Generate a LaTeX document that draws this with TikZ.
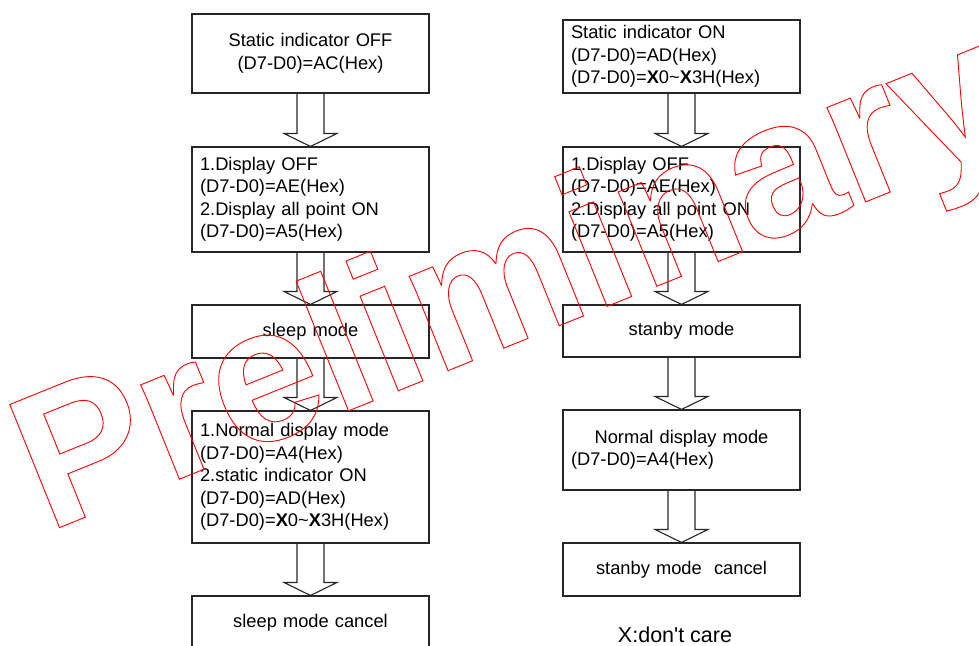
\documentclass[tikz,border=0pt]{standalone}
\usepackage{fontspec}
\setmainfont{Liberation Sans}[Ligatures=TeXOff]
\usetikzlibrary{calc}
\tikzset{
  box/.style={draw=black!85, line width=1.1pt, minimum width=237pt, inner xsep=8pt, inner ysep=0pt,
    font=\fontsize{18.3}{22.5}\selectfont},
  lbox/.style={box, text width=221pt, align=left},
  cbox/.style={box, text width=221pt, align=center},
  blk/.style={draw=black!85, line width=1.1pt, line join=miter},
  wm/.style={text=red, inner sep=0pt, anchor=base west, rotate=22,
    font=\fontsize{193}{193}\selectfont\bfseries},
  note/.style={inner sep=0pt, anchor=base, font=\fontsize{21.5}{24}\selectfont}
}
\newcommand{\blockarrow}[2]{%
  \draw[blk] ($(#1.south)+(-13.5,0)$) -- ($(#2.north)+(-13.5,-13)$) -- ($(#2.north)+(-26.5,-13)$)
    -- (#2.north) -- ($(#2.north)+(26.5,-13)$) -- ($(#2.north)+(13.5,-13)$) -- ($(#1.south)+(13.5,0)$);}
\newcommand{\bX}{\textbf{X}}
\begin{document}
\begin{tikzpicture}[x=1pt,y=-1pt]
\useasboundingbox (0,0) rectangle (979,645);
\clip (0,0) rectangle (979,645);
% left column
\node[cbox, minimum height=79pt] (L1) at (310.5,53.5) {Static indicator OFF\\(D7-D0)=AC(Hex)};
\node[lbox, minimum height=105pt] (L2) at (310.5,199.5) {1.Display OFF\\(D7-D0)=AE(Hex)\\2.Display all point ON\\(D7-D0)=A5(Hex)};
\node[cbox, minimum height=53pt] (L3) at (310.5,331.5) {sleep mode};
\node[lbox, minimum height=132pt] (L4) at (310.5,477) {1.Normal display mode\\(D7-D0)=A4(Hex)\\2.static indicator ON\\(D7-D0)=AD(Hex)\\(D7-D0)=\bX0\textasciitilde\bX3H(Hex)};
\node[cbox, minimum height=53pt] (L5) at (310.5,622.5) {sleep mode cancel};
% right column
\node[lbox, minimum height=73pt] (R1) at (681.5,56.5) {Static indicator ON\\(D7-D0)=AD(Hex)\\(D7-D0)=\bX0\textasciitilde\bX3H(Hex)};
\node[lbox, minimum height=105pt] (R2) at (681.5,199.5) {1.Display OFF\\(D7-D0)=AE(Hex)\\2.Display all point ON\\(D7-D0)=A5(Hex)};
\node[cbox, minimum height=52pt] (R3) at (681.5,331) {stanby mode};
\node[lbox, minimum height=80pt] (R4) at (681.5,450) {\makebox[\linewidth][c]{Normal display mode}\\(D7-D0)=A4(Hex)};
\node[cbox, minimum height=53pt] (R5) at (681.5,569.5) {stanby mode\ \ cancel};
\node[note] (nt) at (675,642) {X:don't care};
% arrows
\blockarrow{L1}{L2}
\blockarrow{L2}{L3}
\blockarrow{L3}{L4}
\blockarrow{L4}{L5}
\blockarrow{R1}{R2}
\blockarrow{R2}{R3}
\blockarrow{R3}{R4}
\blockarrow{R4}{R5}
% watermark
\node[wm] (wmk) at (47.4,532.5) {\special{pdf:literal direct 1 Tr 0.9 w 1 0 0 RG}Preliminary\special{pdf:literal direct 0 Tr}};
\end{tikzpicture}
\end{document}
